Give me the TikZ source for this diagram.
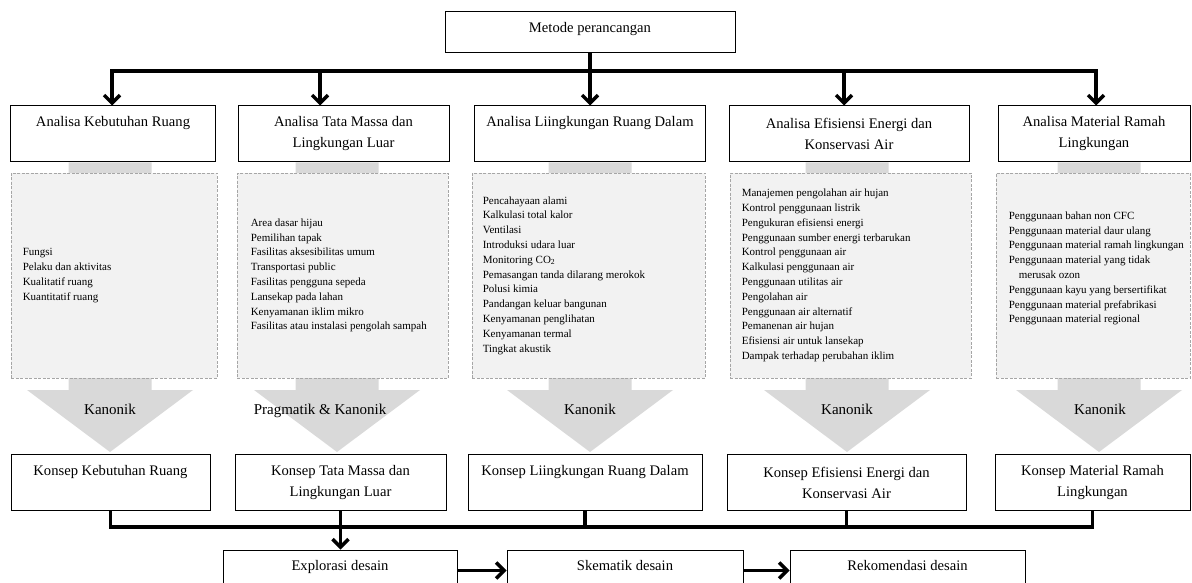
\documentclass[tikz,border=0pt]{standalone}
\usepackage{fontspec}
\setmainfont{Liberation Serif}
\usetikzlibrary{arrows.meta}

\begin{document}
\begin{tikzpicture}
	[
	x = {(1pt, 0pt)},
	y = {(0pt, -1pt)},
	line/.style = {draw = black, line width = 3.5pt},
	arrow/.style = {line, -{Straight Barb[length = 8pt, width = 16pt]}},
	box/.style = {draw = black, line width = 1pt, fill = white, align = center, inner sep = 2pt, font = \fontsize{14.6pt}{21pt}\selectfont},
	onebox/.style = {box, minimum height = 41pt, text depth = 10pt},
	twobox/.style = {box, minimum height = 56pt},
	listbox/.style = {draw = black!35, dash pattern = on 3pt off 1.5pt, fill = black!5, line width = 0.8pt, minimum height = 205pt, inner sep = 0pt},
	list/.style = {anchor = west, align = left, inner sep = 0pt, font = \fontsize{11pt}{14.8pt}\selectfont},
	blockarrow/.style = {fill = black!15},
	method/.style = {anchor = base, inner sep = 0pt, font = \fontsize{15pt}{18pt}\selectfont}
	]
	
	\useasboundingbox (0, 0) rectangle (1192, 583);
	\clip (0, 0) rectangle (1192, 583);
	
	%% Drawing the grey arrows in the back
	
	\foreach \x in {110, 337, 590, 847, 1099}
		\fill[blockarrow] (\x - 41.5, 162.5) -- (\x + 41.5, 162.5) -- (\x + 41.5, 390) -- (\x + 83, 390) -- (\x, 452) -- (\x - 83, 390) -- (\x - 41.5, 390) -- cycle {};
	
	%% Boxes
	
	\node[onebox, minimum width = 290pt] (metode) at (590, 32.5) {Metode perancangan};
	
	\node[twobox, minimum width = 205pt] (a1) at (113, 134) {Analisa Kebutuhan Ruang\\\phantom{g}};
	\node[twobox, minimum width = 211pt] (a2) at (343.5, 134) {Analisa Tata Massa dan\\Lingkungan Luar};
	\node[twobox, minimum width = 231pt] (a3) at (590, 134) {Analisa Liingkungan Ruang Dalam\\\phantom{g}};
	\node[twobox, minimum width = 240pt] (a4) at (849, 134) {Analisa Efisiensi Energi dan\\Konservasi Air};
	\node[twobox, minimum width = 192pt] (a5) at (1094, 134) {Analisa Material Ramah\\Lingkungan};
	
	\node[listbox, minimum width = 206pt] (d1) at (114, 275.5) {};
	\node[listbox, minimum width = 211pt] (d2) at (342.5, 275.5) {};
	\node[listbox, minimum width = 233pt] (d3) at (588.5, 275.5) {};
	\node[listbox, minimum width = 241pt] (d4) at (850.5, 275.5) {};
	\node[listbox, minimum width = 194pt] (d5) at (1093, 275.5) {};
	
	\node[list] (t1) at ([xshift = 12pt]d1.west) {Fungsi\\Pelaku dan aktivitas\\Kualitatif ruang\\Kuantitatif ruang};
	\node[list] (t2) at ([xshift = 14pt]d2.west) {Area dasar hijau\\Pemilihan tapak\\Fasilitas aksesibilitas umum\\Transportasi public\\Fasilitas pengguna sepeda\\Lansekap pada lahan\\Kenyamanan iklim mikro\\Fasilitas atau instalasi pengolah sampah};
	\node[list] (t3) at ([xshift = 11pt]d3.west) {Pencahayaan alami\\Kalkulasi total kalor\\Ventilasi\\Introduksi udara luar\\Monitoring CO\textsubscript{2}\\Pemasangan tanda dilarang merokok\\Polusi kimia\\Pandangan keluar bangunan\\Kenyamanan penglihatan\\Kenyamanan termal\\Tingkat akustik};
	\node[list] (t4) at ([xshift = 12pt]d4.west) {Manajemen pengolahan air hujan\\Kontrol penggunaan listrik\\Pengukuran efisiensi energi\\Penggunaan sumber energi terbarukan\\Kontrol penggunaan air\\Kalkulasi penggunaan air\\Penggunaan utilitas air\\Pengolahan air\\Penggunaan air alternatif\\Pemanenan air hujan\\Efisiensi air untuk lansekap\\Dampak terhadap perubahan iklim};
	\node[list] (t5) at ([xshift = 13pt, yshift = 7pt]d5.west) {Penggunaan bahan non CFC\\Penggunaan material daur ulang\\Penggunaan material ramah lingkungan\\Penggunaan material yang tidak\\\hspace*{10pt}merusak ozon\\Penggunaan kayu yang bersertifikat\\Penggunaan material prefabrikasi\\Penggunaan material regional};
	
	\node[method] (m1) at (110, 414) {Kanonik};
	\node[method] (m2) at (320, 414) {Pragmatik \& Kanonik};
	\node[method] (m3) at (590, 414) {Kanonik};
	\node[method] (m4) at (847, 414) {Kanonik};
	\node[method] (m5) at (1100, 414) {Kanonik};
	
	\node[twobox, minimum width = 199pt] (k1) at (110.5, 482.5) {Konsep Kebutuhan Ruang\\\phantom{g}};
	\node[twobox, minimum width = 211pt] (k2) at (340.5, 482.5) {Konsep Tata Massa dan\\Lingkungan Luar};
	\node[twobox, minimum width = 234pt] (k3) at (585, 482.5) {Konsep Liingkungan Ruang Dalam\\\phantom{g}};
	\node[twobox, minimum width = 239pt] (k4) at (846.5, 482.5) {Konsep Efisiensi Energi dan\\Konservasi Air};
	\node[twobox, minimum width = 195pt] (k5) at (1092.5, 482.5) {Konsep Material Ramah\\Lingkungan};
	
	\node[onebox, minimum width = 234pt] (e) at (340, 570.5) {Explorasi desain};
	\node[onebox, minimum width = 236pt] (s) at (625, 570.5) {Skematik desain};
	\node[onebox, minimum width = 235pt] (r) at (907.5, 570.5) {Rekomendasi desain};
	
	%% Drawing the connectors
	
	\coordinate (b1) at (112, 71);
	\coordinate (b2) at (320, 71);
	\coordinate (b4) at (844, 71);
	\coordinate (b5) at (1096, 71);
	\coordinate (kbus) at (0, 527);
	
	\draw[line, line cap = rect] (b1) -- (b5);
	\draw[arrow] (metode.south) -- (a3.north);
	\draw[arrow] (b1) -- (b1 |- a1.north);
	\draw[arrow] (b2) -- (b2 |- a2.north);
	\draw[arrow] (b4) -- (b4 |- a4.north);
	\draw[arrow] (b5) -- (b5 |- a5.north);
	
	\draw[line] (k1.south) -- (k1.south |- kbus) -- (k5.south |- kbus) -- (k5.south);
	\draw[line] (k3.south) -- (k3.south |- kbus);
	\draw[line] (k4.south) -- (k4.south |- kbus);
	\draw[arrow] (k2.south) -- (k2.south |- e.north);
	
	\draw[arrow] (e.east) -- (s.west);
	\draw[arrow] (s.east) -- (r.west);
\end{tikzpicture}
\end{document}
